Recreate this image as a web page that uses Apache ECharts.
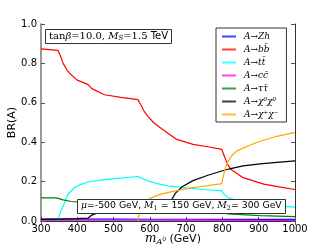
<!DOCTYPE html>
<html><head><meta charset="utf-8">
<script src="https://cdn.jsdelivr.net/npm/echarts@6/dist/echarts.min.js"></script>
<style>html,body{margin:0;padding:0;background:#fff}#c{width:328px;height:246px}</style>
</head><body><div id="c"></div>
<script>
// ---- data ----
const xTicks = [300, 400, 500, 600, 700, 800, 900, 1000];
const yTicks = [0.0, 0.2, 0.4, 0.6, 0.8, 1.0];

const zhMass = [300, 400, 500, 600, 700, 800, 900, 1000];
const zhBR   = [0.010, 0.010, 0.010, 0.009, 0.009, 0.008, 0.008, 0.008];

const bbMass = [300, 347, 352, 361, 372, 383, 400, 430, 440, 475, 520, 567, 575, 585, 595, 610, 628, 650, 674, 719, 760, 798, 805, 815, 823, 857, 914, 960, 1000];
const bbBR   = [0.874, 0.866, 0.845, 0.800, 0.765, 0.742, 0.715, 0.692, 0.672, 0.641, 0.628, 0.616, 0.590, 0.555, 0.530, 0.500, 0.475, 0.445, 0.414, 0.389, 0.377, 0.364, 0.330, 0.285, 0.263, 0.220, 0.187, 0.172, 0.160];

const ttMass = [346, 350, 355, 361, 374, 393, 410, 430, 475, 520, 567, 580, 595, 620, 650, 700, 750, 798, 805, 815, 850, 900, 950, 1000];
const ttBR   = [0.000, 0.025, 0.050, 0.076, 0.136, 0.170, 0.186, 0.198, 0.210, 0.218, 0.226, 0.215, 0.204, 0.190, 0.178, 0.168, 0.160, 0.153, 0.135, 0.118, 0.100, 0.085, 0.077, 0.070];

const ccMass = [300, 400, 500, 600, 700, 800, 900, 1000];
const ccBR   = [0.006, 0.006, 0.005, 0.005, 0.004, 0.004, 0.003, 0.003];

const tauMass = [300, 340, 347, 361, 383, 430, 475, 567, 595, 628, 719, 798, 815, 904, 1000];
const tauBR   = [0.117, 0.117, 0.115, 0.107, 0.099, 0.093, 0.086, 0.083, 0.072, 0.064, 0.052, 0.049, 0.036, 0.027, 0.022];

const n0Mass = [300, 350, 400, 430, 440, 460, 500, 567, 580, 595, 628, 660, 670, 690, 719, 760, 798, 820, 857, 904, 950, 1000];
const n0BR   = [0.008, 0.010, 0.012, 0.015, 0.030, 0.045, 0.050, 0.055, 0.065, 0.080, 0.098, 0.108, 0.140, 0.175, 0.205, 0.232, 0.254, 0.265, 0.280, 0.290, 0.298, 0.305];

const chMass = [567, 570, 575, 580, 590, 600, 628, 664, 719, 760, 798, 803, 808, 815, 825, 839, 857, 880, 904, 950, 1000];
const chBR   = [0.000, 0.030, 0.055, 0.070, 0.100, 0.115, 0.135, 0.150, 0.170, 0.180, 0.190, 0.230, 0.270, 0.300, 0.330, 0.355, 0.370, 0.388, 0.405, 0.430, 0.450];

const seriesNames = ['A→Zh', 'A→bb̄', 'A→tt̄', 'A→cc̄', 'A→ττ̄', 'A→χ⁰χ⁰', 'A→χ⁺χ⁻'];
const seriesColors = ['#0000ff', '#ff0000', '#00ffff', '#ff00ff', '#008000', '#000000', '#ffa500'];
const seriesMass = [zhMass, bbMass, ttMass, ccMass, tauMass, n0Mass, chMass];
const seriesBR = [zhBR, bbBR, ttBR, ccBR, tauBR, n0BR, chBR];

// ---- chart ----
const chart = echarts.init(document.getElementById('c'), null, {renderer: 'canvas'});
const series = seriesNames.map((name, i) => ({
  name, type: 'line', xAxisIndex: 0, yAxisIndex: 0,
  data: seriesMass[i].map((m, j) => [m, seriesBR[i][j]]),
  showSymbol: false, symbol: 'none', smooth: false,
  lineStyle: {color: seriesColors[i], width: 1.2},
  itemStyle: {color: seriesColors[i]},
  animation: false, z: 2 + i * 0.01
}));

const serif = 'DejaVu Serif';
const sans = 'DejaVu Sans';

chart.setOption({
  animation: false,
  backgroundColor: '#fff',
  grid: {left: 41, right: 33, top: 24, bottom: 25, containLabel: false, outerBoundsMode: 'none'},
  xAxis: [{
    type: 'value', min: 300, max: 1000, interval: 100, position: 'bottom',
    axisLine: {show: true, onZero: false, lineStyle: {color: '#999', width: 2}},
    axisTick: {show: true, inside: true, length: 4, lineStyle: {color: '#555'}},
    axisLabel: {color: '#000', fontSize: 10, fontFamily: sans, margin: 3,
      formatter: v => xTicks.includes(v) ? String(v) : ''},
    splitLine: {show: false},
    name: '{m|m}{s|A}{sup|0}{t| (GeV)}', nameLocation: 'middle', nameGap: 11, nameMoveOverlap: false,
    nameTextStyle: {
      padding: [0, 0, 0, 10],
      rich: {
        m: {fontFamily: serif, fontStyle: 'italic', fontSize: 12, color: '#000'},
        s: {fontFamily: serif, fontStyle: 'italic', fontSize: 8, color: '#000', padding: [6, 0, 0, 0]},
        sup: {fontFamily: serif, fontSize: 6, color: '#000'},
        t: {fontFamily: sans, fontSize: 11, color: '#000'}
      }
    }
  }, {
    type: 'value', min: 300, max: 1000, interval: 100, position: 'top',
    axisLine: {show: true, lineStyle: {color: '#333', width: 1}},
    axisTick: {show: true, inside: true, length: 4, lineStyle: {color: '#555'}},
    axisLabel: {show: false}, splitLine: {show: false}
  }],
  yAxis: [{
    type: 'value', min: 0, max: 1, interval: 0.2, position: 'left',
    axisLine: {show: true, onZero: false, lineStyle: {color: '#999', width: 2}},
    axisTick: {show: true, inside: true, length: 4, lineStyle: {color: '#555'}},
    axisLabel: {color: '#000', fontSize: 10, fontFamily: sans, margin: 4,
      formatter: v => yTicks.some(t => Math.abs(t - v) < 1e-9) ? v.toFixed(1) : ''},
    splitLine: {show: false},
    name: 'BR(A)', nameLocation: 'middle', nameGap: 23, nameRotate: 90, nameMoveOverlap: false,
    nameTextStyle: {fontFamily: sans, fontSize: 11, color: '#000'}
  }, {
    type: 'value', min: 0, max: 1, interval: 0.2, position: 'right',
    axisLine: {show: true, lineStyle: {color: '#333', width: 1}},
    axisTick: {show: true, inside: true, length: 4, lineStyle: {color: '#555'}},
    axisLabel: {show: false}, splitLine: {show: false}
  }],
  legend: {
    orient: 'vertical', left: 216, top: 28,
    padding: [2, 8, 1, 6], itemGap: 0,
    itemWidth: 14, itemHeight: 2, icon: 'rect',
    backgroundColor: '#fff', borderColor: '#333', borderWidth: 1, borderRadius: 0,
    data: seriesNames.map((n, i) => ({name: n, itemStyle: {color: seriesColors[i], opacity: 0.75}})),
    textStyle: {fontFamily: serif, fontStyle: 'italic', fontSize: 9, color: '#000', lineHeight: 13, padding: [0, 0, 0, 3]},
    selectedMode: false
  },
  title: [{
    left: 45, top: 28,
    text: '{n|tan}{b|β}{n|=10.0, }{i|M}{s|S}{n|=1.5 }{t|TeV}',
    padding: [2, 4, 2, 4],
    backgroundColor: '#fff', borderColor: '#333', borderWidth: 1,
    textStyle: {
      fontWeight: 'normal',
      rich: {
        n: {fontFamily: serif, fontSize: 10, color: '#000', fontWeight: 'normal'},
        b: {fontFamily: serif, fontStyle: 'italic', fontSize: 10, color: '#000', fontWeight: 'normal'},
        i: {fontFamily: serif, fontStyle: 'italic', fontSize: 10, color: '#000', fontWeight: 'normal'},
        s: {fontFamily: serif, fontStyle: 'italic', fontSize: 7, color: '#000', fontWeight: 'normal', padding: [5, 0, 0, 0]},
        t: {fontFamily: sans, fontSize: 10, color: '#000', fontWeight: 'normal'}
      }
    }
  }, {
    left: 77, top: 198,
    text: '{i|μ}{t|=-500 GeV, }{i|M}{s|1}{t| = 150 GeV, }{i|M}{s|2}{t|= 300 GeV}',
    padding: [2, 4, 2, 4],
    backgroundColor: '#fff', borderColor: '#333', borderWidth: 1,
    textStyle: {
      fontWeight: 'normal',
      rich: {
        t: {fontFamily: sans, fontSize: 9.3, color: '#000', fontWeight: 'normal'},
        i: {fontFamily: serif, fontStyle: 'italic', fontSize: 9.3, color: '#000', fontWeight: 'normal'},
        s: {fontFamily: serif, fontSize: 6.5, color: '#000', fontWeight: 'normal', padding: [5, 0, 0, 0]}
      }
    }
  }],
  series
});
</script></body></html>
